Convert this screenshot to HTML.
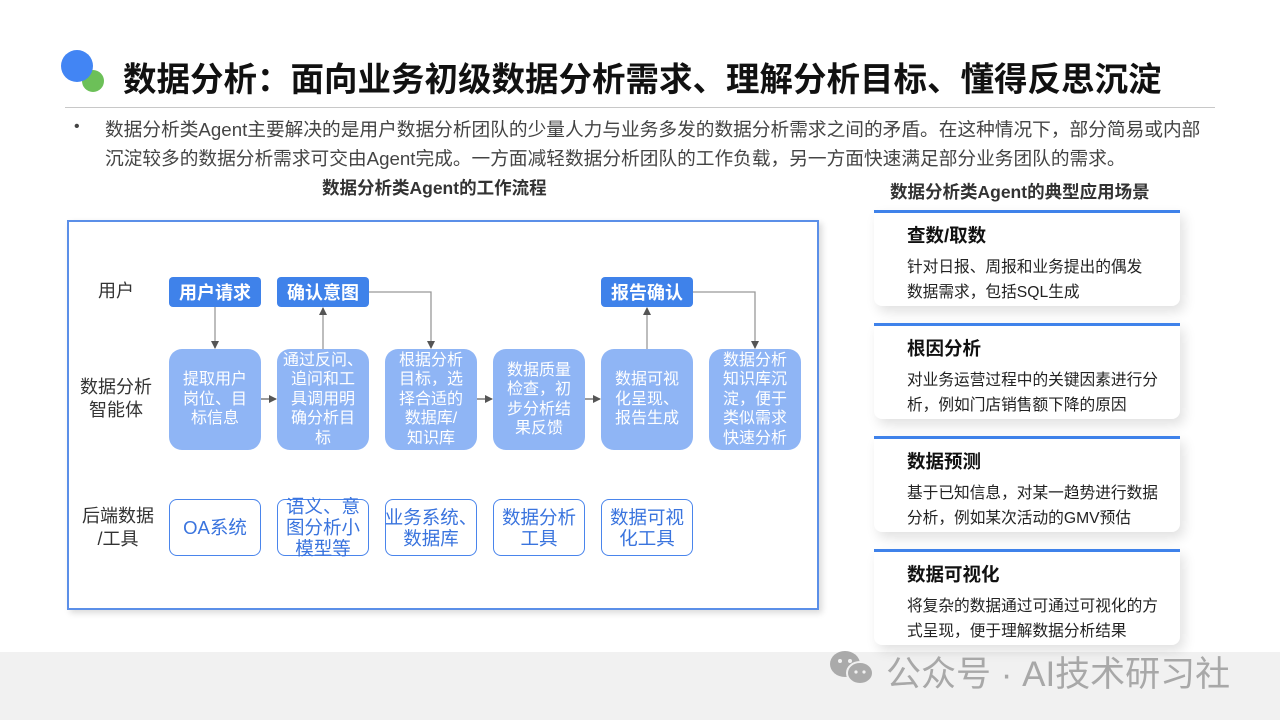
<!DOCTYPE html>
<html><head><meta charset="utf-8"><style>
*{margin:0;padding:0;box-sizing:border-box}
body{width:1280px;height:720px;position:relative;background:#fff;font-family:"Liberation Sans","Noto Sans CJK SC",sans-serif;overflow:hidden}
.a{position:absolute}
.hb{position:absolute;top:277px;width:92px;height:30px;background:#3f82ea;color:#fff;font-weight:bold;font-size:18px;border-radius:4px;display:flex;align-items:center;justify-content:center;white-space:nowrap}
.lb{position:absolute;top:349px;width:92px;height:101px;background:#8fb5f5;color:#fff;font-size:16px;line-height:19.5px;border-radius:13px;display:flex;align-items:center;justify-content:center;text-align:center;white-space:nowrap}
.ob{position:absolute;top:499px;width:92px;height:57px;border:1.5px solid #4a85ec;color:#3a74de;font-size:18.5px;line-height:21px;border-radius:8px;display:flex;align-items:center;justify-content:center;text-align:center;background:#fff;white-space:nowrap}
.rl{position:absolute;color:#333;font-size:18px;text-align:center;line-height:23px;white-space:nowrap}
.card{position:absolute;left:874px;width:306px;height:96px;background:#fff;border-top:3px solid #3f82ea;border-radius:0 0 8px 8px;box-shadow:4px 6px 12px rgba(0,0,0,0.12)}
.card b{position:absolute;left:33px;top:9px;font-size:18.5px;color:#111}
.card p{position:absolute;left:33px;top:42px;font-size:15.7px;line-height:25px;color:#222;white-space:nowrap}
</style></head><body>
<div class="a" style="left:0;top:652px;width:1280px;height:68px;background:#f1f1f1"></div>
<div class="a" style="left:82px;top:70px;width:22px;height:22px;border-radius:50%;background:#6cc058"></div>
<div class="a" style="left:61px;top:50px;width:32px;height:32px;border-radius:50%;background:#4285f4"></div>
<div class="a" style="left:123px;top:52px;font-size:33.5px;font-weight:bold;color:#111;white-space:nowrap">数据分析：面向业务初级数据分析需求、理解分析目标、懂得反思沉淀</div>
<div class="a" style="left:65px;top:107px;width:1150px;height:1px;background:#c8c8c8"></div>
<div class="a" style="left:74px;top:118px;font-size:16px;color:#444">•</div>
<div class="a" style="left:105px;top:115px;font-size:18.7px;line-height:29px;color:#444;white-space:nowrap">数据分析类Agent主要解决的是用户数据分析团队的少量人力与业务多发的数据分析需求之间的矛盾。在这种情况下，部分简易或内部<br>沉淀较多的数据分析需求可交由Agent完成。一方面减轻数据分析团队的工作负载，另一方面快速满足部分业务团队的需求。</div>
<div class="a" style="left:322px;top:175px;font-size:17.5px;font-weight:bold;color:#333">数据分析类Agent的工作流程</div>
<div class="a" style="left:890px;top:179px;font-size:17.5px;font-weight:bold;color:#333">数据分析类Agent的典型应用场景</div>

<div class="a" style="left:67px;top:220px;width:752px;height:390px;border:2px solid #5b8fe8;box-shadow:3px 3px 6px rgba(0,0,0,0.15);background:#fff"></div>
<div class="rl" style="left:90px;top:280px;width:52px">用户</div>
<div class="rl" style="left:74px;top:376px;width:84px">数据分析<br>智能体</div>
<div class="rl" style="left:76px;top:505px;width:84px">后端数据<br>/工具</div>

<svg class="a" style="left:0;top:0" width="1280" height="720">
<defs><marker id="m" markerWidth="8" markerHeight="8" refX="7" refY="4" orient="auto" markerUnits="userSpaceOnUse"><path d="M0,0 L8,4 L0,8z" fill="#555"/></marker></defs>
<g stroke="#999" stroke-width="1.3" fill="none">
<path d="M215,307 V348" marker-end="url(#m)"/>
<path d="M323,349 V308" marker-end="url(#m)"/>
<path d="M369,292 H431 V348" marker-end="url(#m)"/>
<path d="M647,349 V308" marker-end="url(#m)"/>
<path d="M693,292 H755 V348" marker-end="url(#m)"/>
<path d="M261,399 H276" marker-end="url(#m)" stroke="#666"/>
<path d="M477,399 H492" marker-end="url(#m)" stroke="#666"/>
<path d="M585,399 H600" marker-end="url(#m)" stroke="#666"/>
</g></svg>

<div class="hb" style="left:169px">用户请求</div>
<div class="hb" style="left:277px">确认意图</div>
<div class="hb" style="left:601px">报告确认</div>

<div class="lb" style="left:169px">提取用户<br>岗位、目<br>标信息</div>
<div class="lb" style="left:277px">通过反问、<br>追问和工<br>具调用明<br>确分析目<br>标</div>
<div class="lb" style="left:385px">根据分析<br>目标，选<br>择合适的<br>数据库/<br>知识库</div>
<div class="lb" style="left:493px">数据质量<br>检查，初<br>步分析结<br>果反馈</div>
<div class="lb" style="left:601px">数据可视<br>化呈现、<br>报告生成</div>
<div class="lb" style="left:709px">数据分析<br>知识库沉<br>淀，便于<br>类似需求<br>快速分析</div>

<div class="ob" style="left:169px">OA系统</div>
<div class="ob" style="left:277px">语义、意<br>图分析小<br>模型等</div>
<div class="ob" style="left:385px">业务系统、<br>数据库</div>
<div class="ob" style="left:493px">数据分析<br>工具</div>
<div class="ob" style="left:601px">数据可视<br>化工具</div>

<div class="card" style="top:210px"><b>查数/取数</b><p>针对日报、周报和业务提出的偶发<br>数据需求，包括SQL生成</p></div>
<div class="card" style="top:323px"><b>根因分析</b><p>对业务运营过程中的关键因素进行分<br>析，例如门店销售额下降的原因</p></div>
<div class="card" style="top:436px"><b>数据预测</b><p>基于已知信息，对某一趋势进行数据<br>分析，例如某次活动的GMV预估</p></div>
<div class="card" style="top:549px"><b>数据可视化</b><p>将复杂的数据通过可通过可视化的方<br>式呈现，便于理解数据分析结果</p></div>

<svg class="a" style="left:828px;top:648px" width="50" height="40"><ellipse cx="17" cy="16" rx="15" ry="13" fill="#aaa"/><ellipse cx="32" cy="25" rx="13" ry="11" fill="#aaa" stroke="#f1f1f1" stroke-width="2"/><circle cx="12" cy="13" r="2" fill="#f1f1f1"/><circle cx="22" cy="13" r="2" fill="#f1f1f1"/><circle cx="28" cy="24" r="1.6" fill="#f1f1f1"/><circle cx="36" cy="24" r="1.6" fill="#f1f1f1"/></svg>
<div class="a" style="left:886px;top:646px;font-size:35px;color:#a8a8a8;white-space:nowrap">公众号 · AI技术研习社</div>
</body></html>
